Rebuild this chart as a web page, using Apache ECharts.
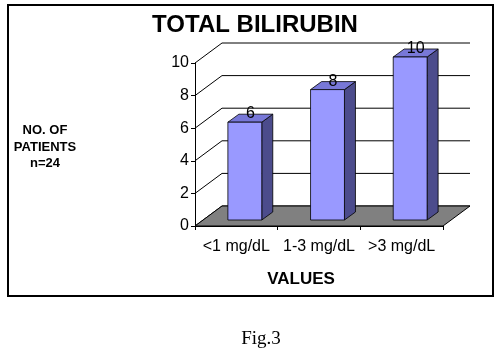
<!DOCTYPE html>
<html>
<head>
<meta charset="utf-8">
<script src="https://cdn.jsdelivr.net/npm/echarts@6/dist/echarts.min.js"></script>
<style>
  html, body { margin: 0; padding: 0; background: #fff; }
  #chart { width: 498px; height: 353px; }
</style>
</head>
<body>
<div id="chart"></div>
<script>
const categories = ["<1 mg/dL", "1-3 mg/dL", ">3 mg/dL"];
const patients = [6, 8, 10];
const yTicks = [0, 2, 4, 6, 8, 10];

const FONT = "'Liberation Sans', Arial, sans-serif";
// 3D look: depth of the back wall and the bar placement within it
const WALL_DX = 27, WALL_DY = -20;
const BAR_OX = 8.5, BAR_OY = -6, BAR_DX = 11, BAR_DY = -8;

const chart = echarts.init(document.getElementById("chart"));

chart.setOption({
  backgroundColor: "#fff",
  animation: false,
  grid: { left: 195, right: 55, top: 63, bottom: 127 },
  xAxis: {
    type: "category",
    data: categories,
    axisLine: { lineStyle: { color: "#000", width: 1 } },
    axisTick: { show: true, length: 4, lineStyle: { color: "#000" } },
    axisLabel: { color: "#000", fontSize: 16, fontFamily: FONT, margin: 13, interval: 0 },
  },
  yAxis: {
    type: "value",
    min: 0,
    max: 10,
    interval: 2,
    axisLine: { show: true, lineStyle: { color: "#000", width: 1 } },
    axisTick: { show: true, length: 4, lineStyle: { color: "#000" } },
    axisLabel: { color: "#000", fontSize: 16, fontFamily: FONT, margin: 6 },
    splitLine: { show: false },
  },
  graphic: [
    {
      type: "rect",
      shape: { x: 8, y: 5, width: 485, height: 291 },
      style: { fill: "none", stroke: "#000", lineWidth: 2 },
      z: -1,
    },
    {
      type: "text", x: 255, y: 25,
      style: { text: "TOTAL BILIRUBIN", font: "bold 24px " + FONT, fill: "#000", textAlign: "center", textVerticalAlign: "middle" },
    },
    {
      type: "text", x: 45, y: 147,
      style: { text: "NO. OF\nPATIENTS\nn=24", font: "bold 13px " + FONT, lineHeight: 16.5, fill: "#000", textAlign: "center", textVerticalAlign: "middle" },
    },
    {
      type: "text", x: 301, y: 279,
      style: { text: "VALUES", font: "bold 17px " + FONT, fill: "#000", textAlign: "center", textVerticalAlign: "middle" },
    },
    {
      type: "text", x: 261, y: 339,
      style: { text: "Fig.3", font: "19px 'Liberation Serif', 'Times New Roman', serif", fill: "#000", textAlign: "center", textVerticalAlign: "middle" },
    },
  ],
  series: [
    {
      // back wall gridlines with their diagonal connectors
      type: "custom",
      z: 1,
      silent: true,
      data: yTicks.map((v) => [0, v]),
      renderItem: (params, api) => {
        const cs = params.coordSys;
        const y = api.coord([0, api.value(1)])[1];
        return {
          type: "polyline",
          shape: {
            points: [
              [cs.x, y],
              [cs.x + WALL_DX, y + WALL_DY],
              [cs.x + cs.width + WALL_DX, y + WALL_DY],
            ],
          },
          style: { stroke: "#000", lineWidth: 1, fill: "none" },
        };
      },
    },
    {
      // grey floor
      type: "custom",
      z: 2,
      silent: true,
      data: [[0, 0]],
      renderItem: (params, api) => {
        const cs = params.coordSys;
        const y = api.coord([0, 0])[1];
        return {
          type: "polygon",
          shape: {
            points: [
              [cs.x, y],
              [cs.x + cs.width, y],
              [cs.x + cs.width + WALL_DX, y + WALL_DY],
              [cs.x + WALL_DX, y + WALL_DY],
            ],
          },
          style: { fill: "#808080", stroke: "#000", lineWidth: 1 },
        };
      },
    },
    {
      name: "Patients",
      type: "custom",
      z: 3,
      data: patients.map((v, i) => [i, v]),
      renderItem: (params, api) => {
        const i = api.value(0);
        const v = api.value(1);
        const base = api.coord([i, 0]);
        const top = api.coord([i, v]);
        const w = api.size([1, 0])[0] * 0.41;
        const x0 = base[0] + BAR_OX - w / 2;
        const x1 = x0 + w;
        const yb = base[1] + BAR_OY;
        const yt = top[1] + BAR_OY;
        const edge = { stroke: "#000", lineWidth: 0.8 };
        return {
          type: "group",
          children: [
            {
              type: "polygon",
              shape: { points: [[x1, yt], [x1 + BAR_DX, yt + BAR_DY], [x1 + BAR_DX, yb + BAR_DY], [x1, yb]] },
              style: Object.assign({ fill: "#4C4C8C" }, edge),
            },
            {
              type: "polygon",
              shape: { points: [[x0, yt], [x1, yt], [x1 + BAR_DX, yt + BAR_DY], [x0 + BAR_DX, yt + BAR_DY]] },
              style: Object.assign({ fill: "#7878D8" }, edge),
            },
            {
              type: "rect",
              shape: { x: x0, y: yt, width: w, height: yb - yt },
              style: Object.assign({ fill: "#9999FF" }, edge),
            },
            {
              type: "text",
              x: base[0] + BAR_OX + BAR_DX / 2,
              y: yt + BAR_DY / 2 - 4.5,
              style: { text: String(v), font: "16px " + FONT, fill: "#000", textAlign: "center", textVerticalAlign: "middle" },
            },
          ],
        };
      },
    },
  ],
});
</script>
</body>
</html>
